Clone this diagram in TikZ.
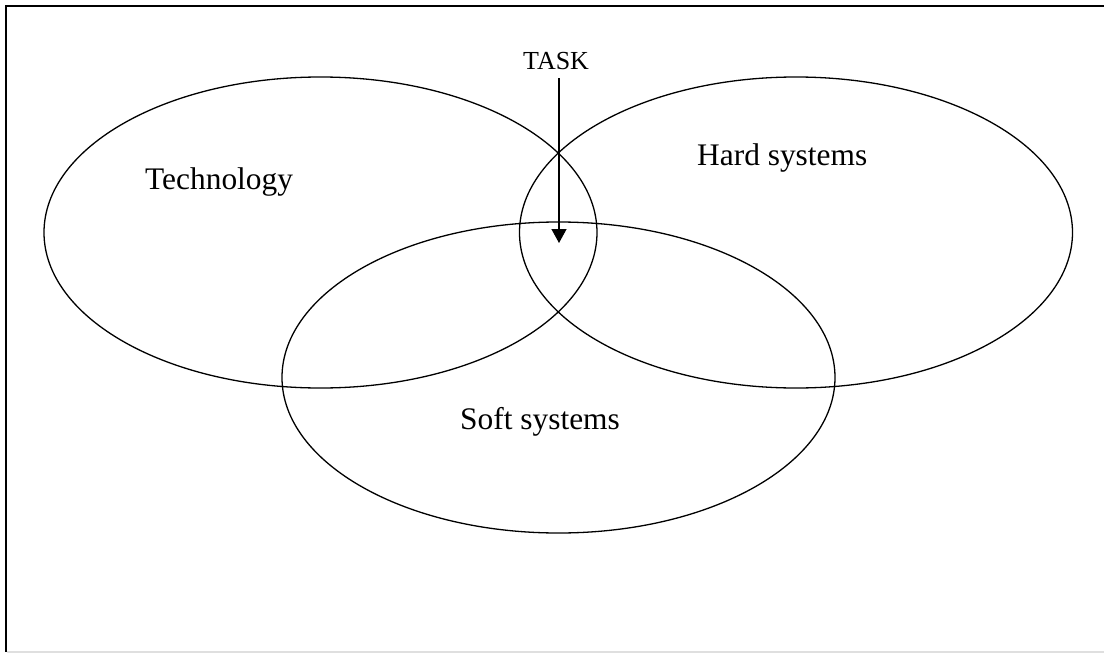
\documentclass[tikz,border=0pt]{standalone}
\usepackage{fontspec}
\setmainfont{Liberation Serif}
\usetikzlibrary{shapes.geometric,arrows.meta}
\begin{document}
\begin{tikzpicture}[x=1pt,y=-1pt,
  set/.style={ellipse,draw,line width=1.3pt,inner sep=0pt,minimum width=553pt,minimum height=311pt},
  lbl/.style={anchor=base west,inner sep=0pt,font=\fontsize{31.4}{36}\selectfont},
  tasklbl/.style={anchor=base west,inner sep=0pt,font=\fontsize{26}{30}\selectfont},
  conn/.style={line width=1.3pt,-{Triangle[width=15pt,length=14pt]}}]
\useasboundingbox (0,0) rectangle (1104,653);
% frame
\draw[line width=2pt] (1104,6) -- (6,6) -- (6,652);
\draw[gray!25,line width=1.5pt] (7,652) -- (1104,652);
% sets
\node[set] (tech) at (320.5,232.5) {};
\node[set] (hard) at (796,232.5) {};
\node[set] (soft) at (558.5,377.5) {};
% labels
\node[lbl] (techl) at (145,189) {Technology};
\node[lbl] (hardl) at (697,165) {Hard systems};
\node[lbl] (softl) at (460,429) {Soft systems};
\node[tasklbl] (task) at (523,69) {TASK};
\coordinate (tip) at (559,243);
\draw[conn] ([yshift=-9pt]task.south -| tip) -- (tip);
\end{tikzpicture}
\end{document}
